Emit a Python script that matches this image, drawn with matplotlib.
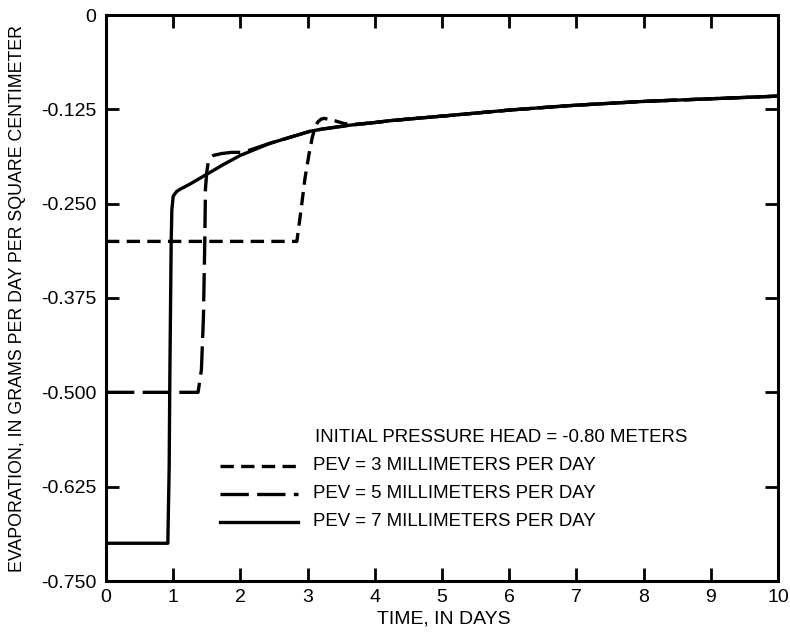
import matplotlib
matplotlib.use("Agg")
import matplotlib.pyplot as plt
from matplotlib.lines import Line2D

plt.rcParams['font.family'] = ['Liberation Sans', 'DejaVu Sans']

# ---- data ----
pev7_x = [0.0, 0.92, 0.94, 0.95, 0.97, 0.98, 1.00, 1.05, 1.10, 1.25, 1.50, 1.75, 2.00,
          2.44, 2.74, 3.04, 3.23, 3.63, 4.00, 4.23, 5.0, 6.0, 6.6, 7.0, 8.0, 9.0, 10.0]
pev7_y = [-0.700, -0.700, -0.600, -0.480, -0.300, -0.258, -0.240, -0.234, -0.231, -0.224,
          -0.211, -0.198, -0.186, -0.170, -0.162, -0.154, -0.151, -0.146, -0.1425, -0.140,
          -0.134, -0.126, -0.122, -0.1195, -0.1145, -0.111, -0.1075]

pev5_x = [0.0, 1.37, 1.42, 1.45, 1.47, 1.48, 1.50, 1.52, 1.56, 1.60, 1.72, 1.87, 2.04,
          2.44, 2.74, 3.04, 3.23, 3.63, 4.00, 4.23, 5.0, 6.0, 6.6, 7.0, 8.0, 9.0, 10.0]
pev5_y = [-0.500, -0.500, -0.470, -0.400, -0.300, -0.230, -0.208, -0.196, -0.189, -0.186,
          -0.1836, -0.182, -0.182, -0.170, -0.162, -0.154, -0.151, -0.146, -0.1425, -0.140,
          -0.134, -0.126, -0.122, -0.1195, -0.1145, -0.111, -0.1075]

pev3_x = [0.0, 2.84, 2.90, 2.96, 3.02, 3.07, 3.11, 3.15, 3.20, 3.25, 3.40, 3.55, 3.70,
          4.00, 4.23, 5.0, 6.0, 6.6, 7.0, 8.0, 9.0, 10.0]
pev3_y = [-0.300, -0.300, -0.260, -0.217, -0.185, -0.162, -0.149, -0.142, -0.138, -0.137,
          -0.140, -0.144, -0.145, -0.1425, -0.140, -0.134, -0.126, -0.122, -0.1195,
          -0.1145, -0.111, -0.1075]

x_ticks = [0, 1, 2, 3, 4, 5, 6, 7, 8, 9, 10]
y_ticks = [0, -0.125, -0.250, -0.375, -0.500, -0.625, -0.750]
y_tick_labels = ['0', '-0.125', '-0.250', '-0.375', '-0.500', '-0.625', '-0.750']

legend_title = 'INITIAL PRESSURE HEAD = -0.80 METERS'
labels = ['PEV = 3 MILLIMETERS PER DAY', 'PEV = 5 MILLIMETERS PER DAY',
          'PEV = 7 MILLIMETERS PER DAY']

# ---- figure ----
fig = plt.figure(figsize=(7.9, 6.32), dpi=100)
ax = fig.add_axes([106 / 790, 1 - 581 / 632, 672 / 790, 566 / 632])

lw = 2.4
short_dash = (4.0, 2.2)
long_dash = (8.5, 2.5)
ax.plot(pev3_x, pev3_y, color='black', lw=lw, dashes=short_dash, dash_capstyle='butt')
ax.plot(pev5_x, pev5_y, color='black', lw=lw, dashes=long_dash, dash_capstyle='butt')
ax.plot(pev7_x, pev7_y, color='black', lw=lw, solid_joinstyle='round')

ax.set_xlim(0, 10)
ax.set_ylim(-0.75, 0)
ax.set_xticks(x_ticks)
ax.set_yticks(y_ticks)
ax.set_yticklabels(y_tick_labels)

for s in ax.spines.values():
    s.set_linewidth(2.2)

ax.tick_params(direction='in', length=9.5, width=2.0, top=True, right=True,
               labelsize=14, color='black')
ax.tick_params(axis='y', pad=7)
ax.tick_params(axis='x', pad=6)

ax.set_xlabel('TIME, IN DAYS', fontsize=14)
ax.set_ylabel('EVAPORATION, IN GRAMS PER DAY PER SQUARE CENTIMETER', fontsize=12.8)
ax.yaxis.label.set_va('center')
ax.xaxis.label.set_va('center')
ax.xaxis.set_label_coords(443.5 / 790, 1 - 619 / 632, transform=fig.transFigure)
ax.yaxis.set_label_coords(18 / 790, 0.5 * (1 - 581 / 632) + 0.5 * (1 - 15 / 632),
                          transform=fig.transFigure)

# legend
fs_leg = 13.4
fig.text(315 / 790, 1 - 437 / 632, legend_title, fontsize=fs_leg, va='center', ha='left')
ys = [466, 494, 522]
styles = [dict(dashes=short_dash), dict(dashes=long_dash), dict()]
for yy, lab, st in zip(ys, labels, styles):
    yf = 1 - yy / 632
    ln = Line2D([220 / 790, 298 / 790], [yf, yf], transform=fig.transFigure,
                color='black', lw=lw, dash_capstyle='butt', **st)
    fig.lines.append(ln)
    fig.text(313 / 790, yf, lab, fontsize=fs_leg, va='center', ha='left')

fig.savefig('out.png', dpi=100)
